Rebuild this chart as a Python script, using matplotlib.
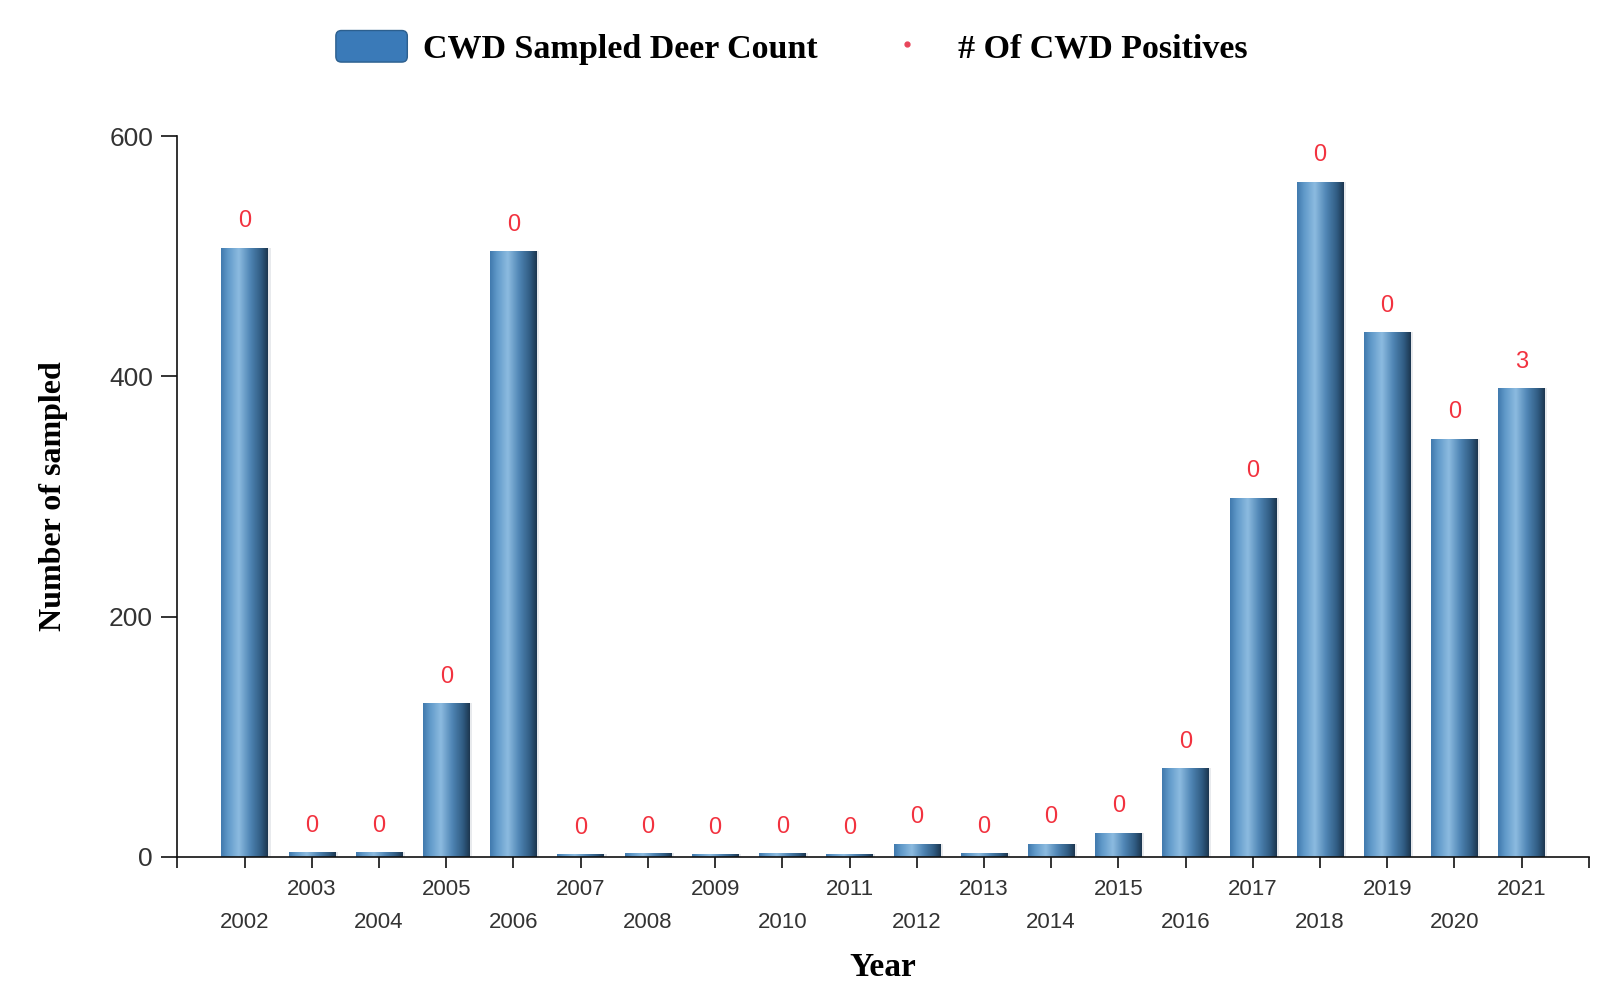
import numpy as np
import matplotlib
matplotlib.use("Agg")
import matplotlib.pyplot as plt
from matplotlib.colors import LinearSegmentedColormap
from matplotlib.lines import Line2D
from matplotlib.patches import FancyBboxPatch, Patch
from matplotlib.legend_handler import HandlerPatch

years = [str(y) for y in range(2002, 2022)]
sampled = [507, 4, 4, 128, 504, 2, 3, 2, 3, 2, 11, 3, 11, 20, 74, 299, 562, 437, 348, 390]
positives = [0, 0, 0, 0, 0, 0, 0, 0, 0, 0, 0, 0, 0, 0, 0, 0, 0, 0, 0, 3]
y_ticks = [0, 200, 400, 600]

serif = ['Liberation Serif', 'DejaVu Serif']
sans = ['Liberation Sans', 'DejaVu Sans']

fig = plt.figure(figsize=(16.13, 9.94), dpi=100)
ax = fig.add_axes([0.110, 0.138, 0.875, 0.725])

x = np.arange(len(years))
width = 0.69
bars = ax.bar(x, sampled, width=width, color='#3d7ab3', zorder=2)

cmap = LinearSegmentedColormap.from_list('cyl', [
    (0.0, '#4079ad'), (0.15, '#6099c9'), (0.38, '#8cbbe0'),
    (0.62, '#5086b5'), (0.85, '#305c83'), (1.0, '#1c364f')])
grad = np.linspace(0, 1, 256).reshape(1, -1)
for b in bars:
    b.set_facecolor('none')
    bx, bw, bh = b.get_x(), b.get_width(), b.get_height()
    ax.bar(bx + bw / 2 + 0.04, bh, width=bw, color='#d9dde2', zorder=1, alpha=0.6)
    im = ax.imshow(grad, cmap=cmap, extent=[bx, bx + bw, 0, bh], aspect='auto', zorder=2.5,
                   interpolation='bicubic')
    im.set_clip_path(b)

for xi, v, p in zip(x, sampled, positives):
    ax.annotate(str(p), (xi, v), xytext=(0, 19), textcoords='offset points',
                ha='center', va='center', color='#f2323f', fontsize=17, family=sans, zorder=4)

ax.set_xlim(-1, 20)
ax.set_ylim(0, 600)
ax.set_aspect('auto')

for s in ['top', 'right']:
    ax.spines[s].set_visible(False)
for s in ['left', 'bottom']:
    ax.spines[s].set_linewidth(1.2)
    ax.spines[s].set_color('#111111')

ax.set_yticks(y_ticks)
ax.set_yticklabels([str(t) for t in y_ticks], family=sans, fontsize=19, color='#333333')
ax.tick_params(axis='y', length=11.5, width=1.2, pad=6, color='#111111')

ax.set_xticks(np.arange(-1, 21))
ax.set_xticklabels([''] + years + [''], family=sans, fontsize=16, color='#333333')
ax.tick_params(axis='x', length=8, width=1.2, color='#111111')
for i, t in enumerate(ax.xaxis.get_major_ticks()):
    idx = i - 1
    if 0 <= idx < len(years) and idx % 2 == 0:
        t.set_pad(32)
    else:
        t.set_pad(8)

fig.text(0.0332, 0.501, 'Number of sampled', rotation=90, ha='center', va='center',
         family=serif, fontweight='bold', fontsize=23)
fig.text(0.547, 0.027, 'Year', ha='center', va='center', family=serif, fontweight='bold', fontsize=24)


def rounded(legend, orig_handle, xdescent, ydescent, width, height, fontsize):
    return FancyBboxPatch((-xdescent, -ydescent), width, height,
                          boxstyle='round,pad=0,rounding_size=4')


h1 = Patch(facecolor='#3a7ab8', edgecolor='#2c5f8e', linewidth=1)
h2 = Line2D([], [], linestyle='none', marker='o', markersize=3.5, color='#e8455a')
leg = fig.legend([h1, h2], ['CWD Sampled Deer Count', '# Of CWD Positives'], loc='center',
                 bbox_to_anchor=(0.491, 0.952), ncol=2, frameon=False,
                 prop={'family': serif, 'weight': 'bold', 'size': 24.5},
                 handlelength=2.1, handleheight=1.05, handletextpad=0.45, columnspacing=1.6,
                 handler_map={Patch: HandlerPatch(patch_func=rounded)})

fig.savefig('out.png', dpi=100)
